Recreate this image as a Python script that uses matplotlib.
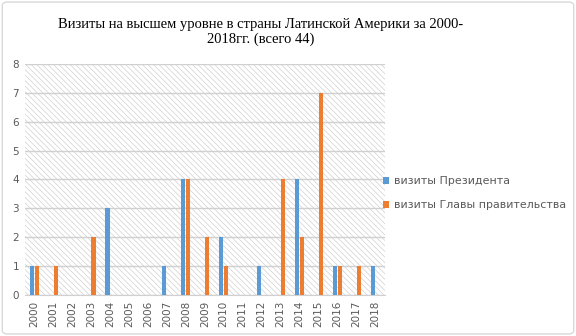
import numpy as np
import matplotlib.pyplot as plt
from matplotlib.patches import Rectangle, FancyBboxPatch

years = [str(y) for y in range(2000, 2019)]
president = [1, 0, 0, 0, 3, 0, 0, 1, 4, 0, 2, 0, 1, 0, 4, 0, 1, 0, 1]
government = [1, 1, 0, 2, 0, 0, 0, 0, 4, 2, 1, 0, 0, 4, 2, 7, 1, 1, 0]

plt.rcParams['hatch.linewidth'] = 0.45
plt.rcParams['hatch.color'] = '#cccccc'

fig = plt.figure(figsize=(5.76, 3.36), dpi=100)
fig.patches.append(FancyBboxPatch((0.004, 0.006), 0.992, 0.988, boxstyle='round,pad=0,rounding_size=0.01',
                                  transform=fig.transFigure, facecolor='white',
                                  edgecolor='#d9d9d9', linewidth=1, zorder=-10))
ax = fig.add_axes([0.043, 0.122, 0.625, 0.688])
ax.set_facecolor('none')

x = np.arange(len(years))
w = 0.22
# hatched plot area
ax.add_patch(Rectangle((0, 0), 1, 1, transform=ax.transAxes, facecolor='white',
                       edgecolor='#cccccc', hatch='\\\\\\\\\\\\', linewidth=0, zorder=0))
ax.bar(x - w / 2 - 0.02, president, w, color='#5b9bd5', label='визиты Президента', zorder=3)
ax.bar(x + w / 2 + 0.02, government, w, color='#ed7d31', label='визиты Главы правительства', zorder=3)

ax.set_xlim(-0.5, len(years) - 0.5)
ax.set_ylim(0, 8)
ax.set_yticks(range(0, 9))
ax.set_xticks(x)
ax.set_xticklabels(years, rotation=90)
ax.tick_params(length=0, labelsize=7.5, colors='#595959', pad=4)
ax.yaxis.grid(True, color='#d0d0d0', linewidth=1, zorder=1)
ax.set_axisbelow(False)
for s in ['top', 'right', 'left']:
    ax.spines[s].set_visible(False)
ax.spines['bottom'].set_color('#d0d0d0')

fig.legend(loc='center left', bbox_to_anchor=(0.647, 0.425), frameon=False,
           fontsize=7.9, handlelength=0.6, handleheight=0.6, labelspacing=1.3,
           handletextpad=0.4, labelcolor='#595959')

fig.text(0.453, 0.905, 'Визиты на высшем уровне в страны Латинской Америки за 2000-\n2018гг. (всего 44)',
         ha='center', va='center', fontsize=10.5, family='Liberation Serif', linespacing=1.15)

fig.savefig('out.png', dpi=100)
